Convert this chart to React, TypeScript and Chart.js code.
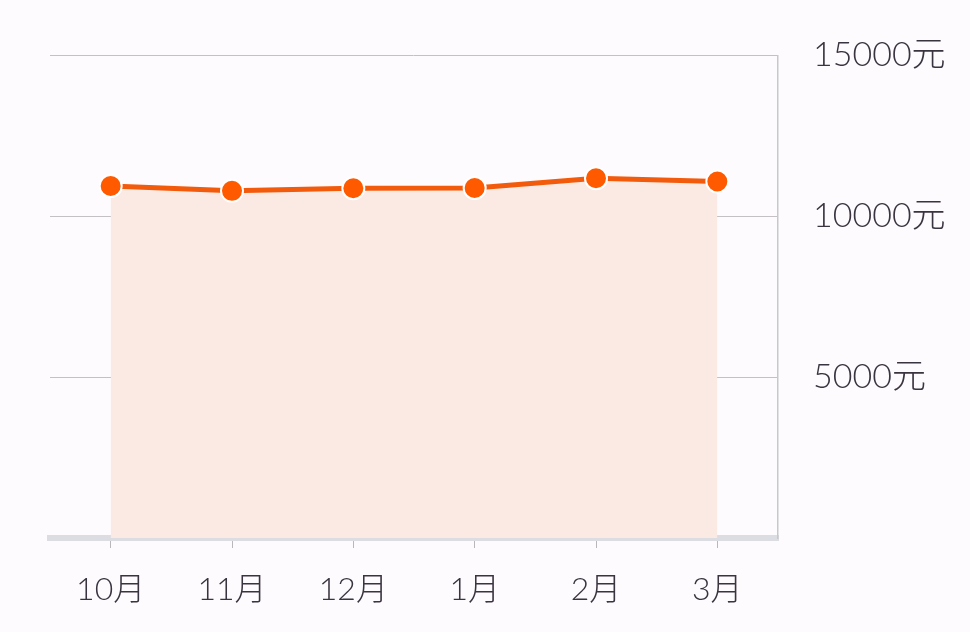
import React, { useEffect, useRef } from "react";
import Chart from "chart.js/auto";

const months = ["10月", "11月", "12月", "1月", "2月", "3月"];
const salary = [10940, 10790, 10870, 10880, 11180, 11080];
const yTicks = [0, 5000, 10000, 15000];

const App: React.FC = () => {
  const canvasRef = useRef<HTMLCanvasElement | null>(null);

  useEffect(() => {
    const canvas = canvasRef.current;
    if (!canvas) return;
    const chart = new Chart(canvas, {
      type: "line",
      data: {
        labels: months,
        datasets: [
          {
            data: salary,
            borderColor: "#f25a0c",
            backgroundColor: "#fbeae3",
            borderWidth: 5,
            fill: "origin",
            tension: 0,
            pointRadius: 11,
            pointHoverRadius: 11,
            pointBackgroundColor: "#ff5a00",
            pointBorderColor: "#ffffff",
            pointBorderWidth: 2,
          },
        ],
      },
      options: {
        responsive: false,
        animation: false,
        layout: { padding: { left: 50, top: 24, right: 0, bottom: 0 } },
        plugins: {
          legend: { display: false },
          tooltip: { enabled: false },
        },
        scales: {
          x: {
            offset: true,
            afterFit: (scale: any) => {
              scale.height = 94;
            },
            grid: {
              drawOnChartArea: false,
              drawTicks: true,
              tickLength: 10,
              color: "#b8b8bc",
              lineWidth: 1,
            },
            border: { color: "#dcdde2", width: 6 },
            ticks: {
              color: "#3a3340",
              padding: 22,
              font: { family: "Lato, 'Noto Sans CJK SC', sans-serif", size: 32, weight: 300 },
            },
          },
          y: {
            position: "right",
            min: 0,
            max: 15000,
            afterFit: (scale: any) => {
              scale.width = 192;
            },
            afterBuildTicks: (scale: any) => {
              scale.ticks = yTicks.map((v) => ({ value: v }));
            },
            grid: {
              drawTicks: false,
              color: "#c4c0c6",
              lineWidth: 1,
            },
            border: { color: "#c8c8cc", width: 1.5 },
            ticks: {
              color: "#3a3340",
              padding: 35,
              font: { family: "Lato, 'Noto Sans CJK SC', sans-serif", size: 34, weight: 300 },
              callback: (v: any) => (Number(v) === 0 ? "" : v + "元"),
            },
          },
        },
      },
    });
    return () => chart.destroy();
  }, []);

  return (
    <div style={{ position: "fixed", left: 0, top: 0, width: 970, height: 632, background: "#fdfbfd" }}>
      <canvas ref={canvasRef} width={970} height={632}></canvas>
    </div>
  );
};

export default App;
